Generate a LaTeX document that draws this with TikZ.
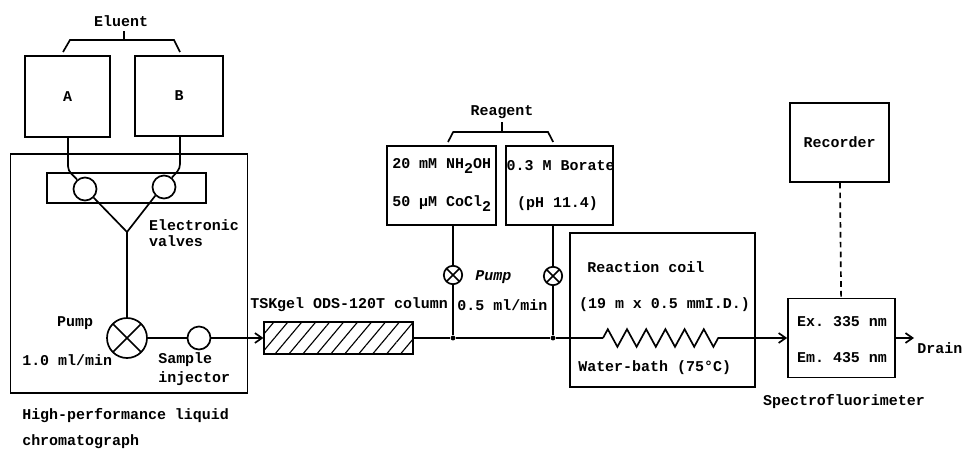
\documentclass[tikz,border=0pt]{standalone}
\usepackage{fontspec}
\setmonofont{Liberation Mono}
\usetikzlibrary{arrows.meta,decorations.pathmorphing,patterns.meta}
\tikzset{
    box/.style={draw, line width=1.2pt, inner sep=0pt},
    valve/.style={draw, circle, line width=1.2pt, inner sep=0pt, minimum size=0.575cm},
    pumpsign/.style={valve, path picture={
        \draw[line width=1.2pt] (path picture bounding box.north west) -- (path picture bounding box.south east);
        \draw[line width=1.2pt] (path picture bounding box.north east) -- (path picture bounding box.south west);}},
    tube/.style={line width=1.2pt},
    flow/.style={tube, -{Straight Barb[length=5pt,width=7pt]}},
    note/.style={font=\ttfamily\bfseries\fontsize{10.65}{12}\selectfont, inner sep=0pt},
    tag/.style={note, anchor=west},
    joint/.style={circle, fill=black, inner sep=0pt, minimum size=3.5pt},
}
\newcommand{\lowtwo}{\raisebox{-3.5pt}{2}}

\begin{document}
\begin{tikzpicture}
    \useasboundingbox (0,0) rectangle (24.05,-11.225);

    % eluent
    \node[box, minimum width=2.125cm, minimum height=2.025cm, note] (bottlea) at (1.69,-2.41) {A};
    \node[box, minimum width=2.2cm, minimum height=2cm, note] (bottleb) at (4.475,-2.4) {B};
    \node[note] (eluent) at (3.03,-0.53) {Eluent};
    \coordinate (eluentl) at (1.575,-1.3);
    \coordinate (eluentr) at (4.5,-1.3);
    \coordinate (eluentm) at (3.1,-1);
    \draw[tube] (eluentl) -- (1.75,-1) -- (4.35,-1) -- (eluentr);
    \draw[tube] (eluentm) -- (3.1,-0.78);

    % chromatograph
    \node[box, minimum width=5.925cm, minimum height=5.975cm] (hplc) at (3.225,-6.84) {};
    \node[box, minimum width=3.975cm, minimum height=0.75cm] (bar) at (3.1625,-4.7) {};
    \node[valve] (valvea) at (2.125,-4.725) {};
    \node[valve] (valveb) at (4.1,-4.675) {};
    \node[valve, pumpsign, minimum size=1cm] (pump) at (3.175,-8.45) {};
    \node[valve] (injector) at (4.975,-8.45) {};
    \coordinate (merge) at (3.175,-5.8);
    \draw[tube] (bottlea.south -| 1.7,0) -- (1.7,-4.15) to[out=-90,in=130] (valvea.130);
    \draw[tube] (bottleb.south -| 4.5,0) -- (4.5,-4.1) to[out=-90,in=50] (valveb.50);
    \draw[tube] (valvea.-45) -- (merge);
    \draw[tube] (valveb.-135) -- (merge);
    \draw[tube] (merge) -- (pump);
    \draw[tube] (pump) -- (injector);
    \node[tag] (evalves) at (3.72,-5.62) {Electronic};
    \node[tag] (evalvesb) at (3.72,-6.02) {valves};
    \node[note] (pumpa) at (1.88,-8.08) {Pump};
    \node[tag] (ratea) at (0.55,-9) {1.0 ml/min};
    \node[tag] (sample) at (3.95,-9) {Sample};
    \node[tag] (sampleb) at (3.95,-9.47) {injector};
    \node[tag] (hplca) at (0.55,-10.38) {High-performance liquid};
    \node[tag] (hplcb) at (0.55,-11.05) {chromatograph};

    % column
    \node[box, minimum width=3.725cm, minimum height=0.8cm,
          pattern={Lines[angle=50,distance=7.6pt,line width=0.8pt]}] (column) at (8.4625,-8.45) {};
    \draw[flow] (injector) -- (column);
    \node[tag] (columnlbl) at (6.25,-7.62) {TSKgel ODS-120T column};

    % reagent
    \node[box, minimum width=2.725cm, minimum height=1.975cm] (reagenta) at (11.0375,-4.6375) {};
    \node[box, minimum width=2.675cm, minimum height=1.975cm] (reagentb) at (13.9875,-4.6375) {};
    \node[note] (reagent) at (12.55,-2.8) {Reagent};
    \coordinate (reagentl) at (11.2,-3.55);
    \coordinate (reagentr) at (13.83,-3.55);
    \coordinate (reagentm) at (12.55,-3.3);
    \draw[tube] (reagentl) -- (11.33,-3.3) -- (13.7,-3.3) -- (reagentr);
    \draw[tube] (reagentm) -- (12.55,-3.05);
    \node[tag] (nhtwo) at (9.8,-4.15) {20 mM NH\lowtwo OH};
    \node[tag] (cocl) at (9.8,-5.1) {50 µM CoCl\lowtwo};
    \node[tag] (borate) at (12.66,-4.15) {0.3 M Borate};
    \node[tag] (ph) at (12.92,-5.1) {(pH 11.4)};
    \node[valve, pumpsign, minimum size=0.46cm] (pumpb) at (11.325,-6.875) {};
    \node[valve, pumpsign, minimum size=0.46cm] (pumpc) at (13.825,-6.9) {};
    \node[joint] (jointa) at (11.325,-8.45) {};
    \node[joint] (jointb) at (13.825,-8.45) {};
    \draw[tube] (reagenta.south -| pumpb) -- (pumpb);
    \draw[tube] (pumpb) -- (jointa);
    \draw[tube] (reagentb.south -| pumpc) -- (pumpc);
    \draw[tube] (pumpc) -- (jointb);
    \node[tag, font=\ttfamily\bfseries\itshape\fontsize{10.65}{12}\selectfont] (pumplbl) at (11.88,-6.92) {Pump};
    \node[tag] (rateb) at (11.43,-7.62) {0.5 ml/min};

    % reaction coil and detector
    \node[box, minimum width=4.625cm, minimum height=3.85cm] (bath) at (16.5625,-7.75) {};
    \node[box, minimum width=2.675cm, minimum height=1.975cm] (detector) at (21.0375,-8.45) {};
    \node[box, minimum width=2.475cm, minimum height=1.975cm, note] (recorder) at (20.99,-3.56) {Recorder};
    \coordinate (coilin) at (15.075,-8.45);
    \coordinate (coilout) at (18.05,-8.45);
    \draw[tube] (column) -- (jointa) -- (jointb) -- (coilin);
    \draw[tube, decorate, decoration={zigzag, segment length=0.48cm, amplitude=0.22cm}] (coilin) -- (coilout);
    \draw[flow] (coilout) -- (detector);
    \draw[tube, dash pattern=on 4pt off 3pt] (recorder) -- (detector);
    \coordinate (drain) at (22.85,-8.45);
    \draw[flow] (detector) -- (drain);
    \node[tag] (coillbl) at (14.68,-6.68) {Reaction coil};
    \node[tag] (coilsize) at (14.47,-7.62) {(19 m x 0.5 mmI.D.)};
    \node[tag] (bathlbl) at (14.45,-9.2) {Water-bath (75°C)};
    \node[tag] (exlbl) at (19.92,-8.03) {Ex. 335 nm};
    \node[tag] (emlbl) at (19.92,-8.95) {Em. 435 nm};
    \node[tag] (drainlbl) at (22.93,-8.7) {Drain};
    \node[tag] (spectro) at (19.07,-10.05) {Spectrofluorimeter};
\end{tikzpicture}
\end{document}
